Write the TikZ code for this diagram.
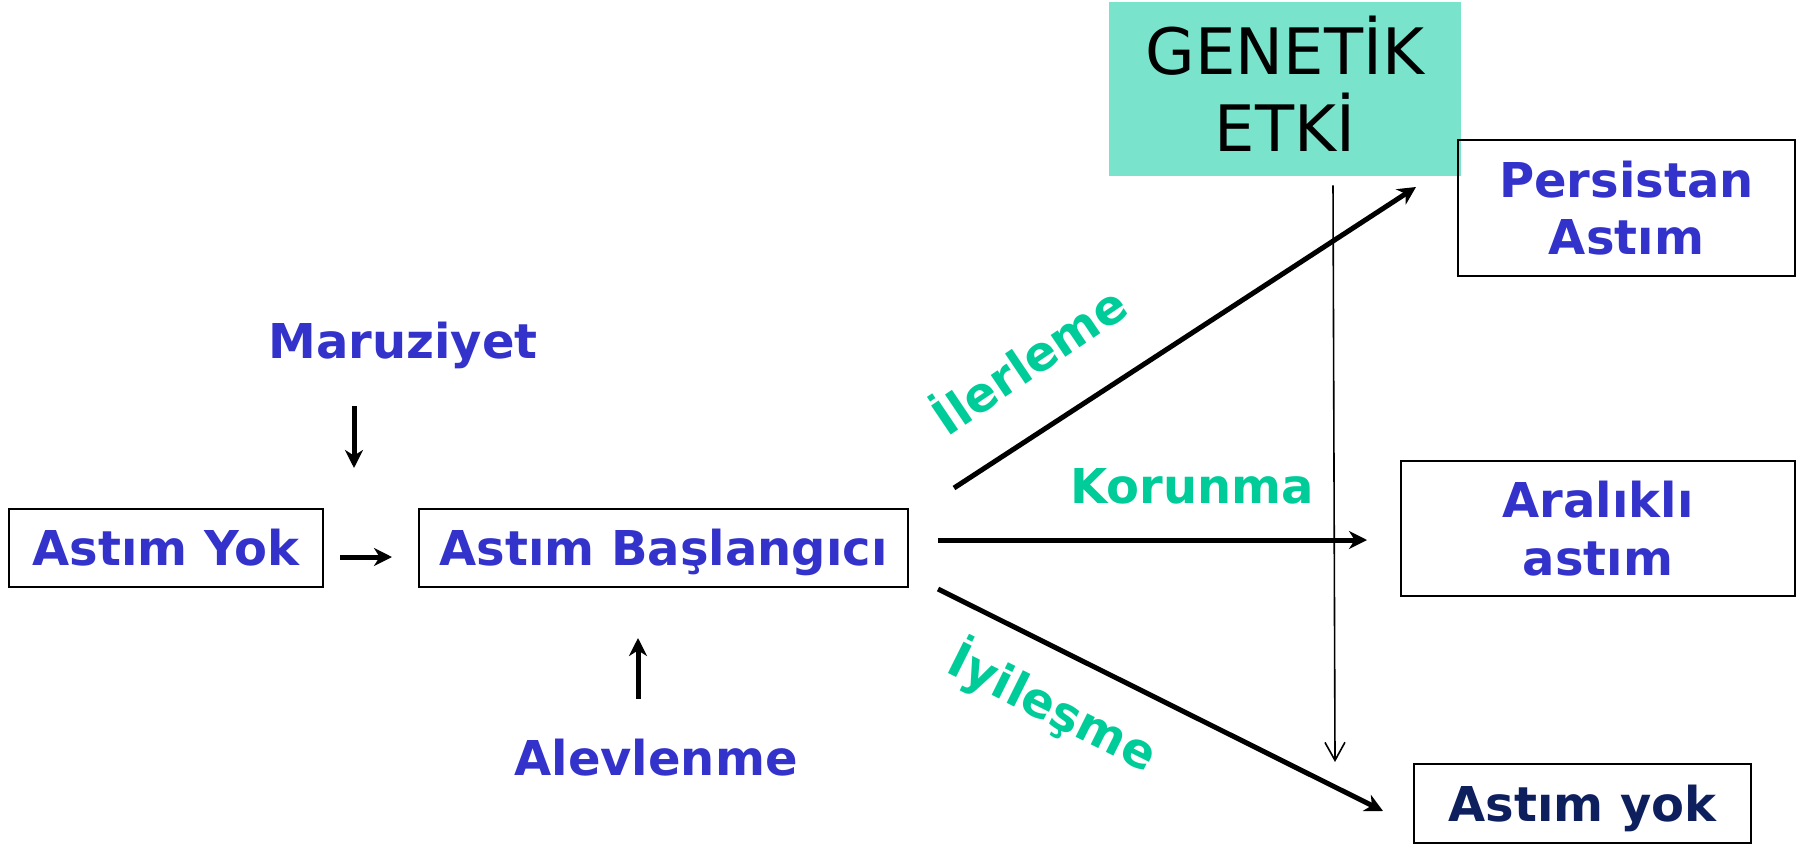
\documentclass[tikz,border=0pt]{standalone}
\usepackage{fontspec}
\setmainfont{DejaVu Sans}
\usetikzlibrary{arrows.meta}
\definecolor{labelblue}{HTML}{3333CC}
\definecolor{labelgreen}{HTML}{00CC99}
\definecolor{genfill}{HTML}{7AE3CB}
\definecolor{darknavy}{HTML}{0E1F5E}

\begin{document}
\begin{tikzpicture}[x=0.5pt,y=-0.5pt,
		every node/.style={
			font=\fontsize{24}{28.8}\selectfont\bfseries,
			align=center,
			inner sep=0pt,
		},
		box/.style={draw, line width=1pt, text=labelblue},
		oneline/.style={text height=17.5pt, text depth=0pt},
		lbl/.style={text=labelblue},
		flowlbl/.style={text=labelgreen},
		bigarrow/.style={line width=2.5pt, -{Stealth[length=9pt,width=9pt,inset=2.8pt]}},
		genarrow/.style={line width=0.8pt, -{Straight Barb[length=9pt,width=10pt]}},
		]
		\useasboundingbox (0,0) rectangle (1797,845);

		\node (yok1) [box, oneline, minimum width=157pt, minimum height=39pt] at (166,548) {Astım Yok};
		\node (basla) [box, oneline, minimum width=244.5pt, minimum height=39pt] at (663.5,548) {Astım Başlangıcı};
		\node (genetik) [fill=genfill, text=black, text depth=5pt, minimum width=176pt, minimum height=87pt, font=\fontsize{32}{38.5}\selectfont] at (1285,89) {GENETİK\\ETKİ};
		\node (persist) [box, minimum width=168.5pt, minimum height=68pt] at (1626.5,208) {Persistan\\Astım};
		\node (aralikli) [box, minimum width=197pt, minimum height=67.5pt] at (1598,528.5) {Aralıklı\\astım};
		\node (yok2) [box, oneline, text=darknavy, minimum width=168.5pt, minimum height=39.5pt] at (1582.5,803.5) {Astım yok};

		\node (maruz) [lbl, anchor=base] at (403,358) {Maruziyet};
		\node (alev) [lbl, anchor=base] at (656,775) {Alevlenme};
		\node (ilerleme) [flowlbl, rotate=34] at (1027,357) {İlerleme};
		\node (korunma) [flowlbl, anchor=base] at (1192,503) {Korunma};
		\node (iyilesme) [flowlbl, rotate=-26.5] at (1053,707) {İyileşme};

		\draw[bigarrow] ([shift={(16,9)}]yok1.east) -- ([shift={(-26,9)}]basla.west);
		\draw[bigarrow] ([shift={(-49,48)}]maruz.base) -- ([shift={(-49,110)}]maruz.base);
		\draw[bigarrow] ([shift={(-18,-76)}]alev.base) -- ([shift={(-18,-137)}]alev.base);
		\draw[bigarrow] ([shift={(45,-60)}]basla.east) -- ([shift={(-41,-21)}]persist.west);
		\draw[bigarrow] ([shift={(29,-8)}]basla.east) -- ([shift={(-33,11.5)}]aralikli.west);
		\draw[bigarrow] ([shift={(29,41)}]basla.east) -- ([shift={(-30,7.5)}]yok2.west);
		\draw[genarrow] ([shift={(48,9)}]genetik.south) -- ([shift={(-78,-1)}]yok2.north west);

	\end{tikzpicture}
\end{document}
